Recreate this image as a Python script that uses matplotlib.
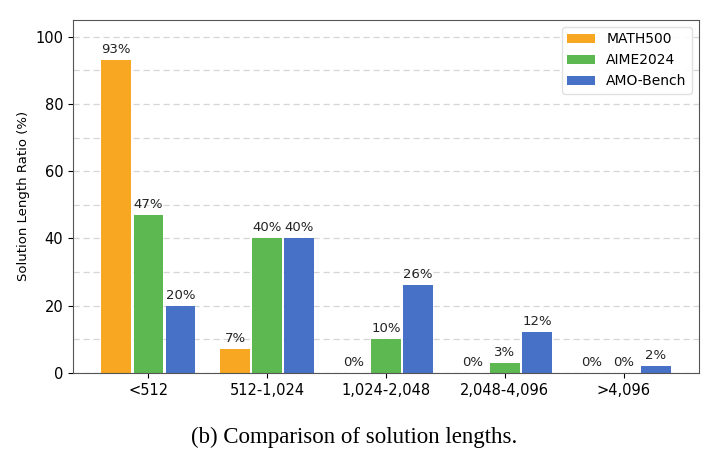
import numpy as np
import matplotlib
matplotlib.use('Agg')
from matplotlib import pyplot as plt
from matplotlib.ticker import MultipleLocator

# 数据
categories = ['<512', '512-1,024', '1,024-2,048', '2,048-4,096', '>4,096']
math500 = [93, 7, 0, 0, 0]
aime2024 = [47, 40, 10, 3, 0]
amo_bench = [20, 40, 26, 12, 2]
series_names = ['MATH500', 'AIME2024', 'AMO-Bench']
colors = ['#F7A722', '#5DB852', '#4671C6']

fig = plt.figure(figsize=(7.09, 4.53), dpi=100)
ax = fig.add_axes([0.103, 0.177, 0.883, 0.779])

x = np.arange(len(categories))
width = 0.25
offsets = [-0.27, 0, 0.27]

for vals, name, c, off in zip([math500, aime2024, amo_bench], series_names, colors, offsets):
    bars = ax.bar(x + off, vals, width, color=c, label=name)
    for b, v in zip(bars, vals):
        ax.text(b.get_x() + b.get_width() / 2, v + 1.2, f'{v}%',
                ha='center', va='bottom', fontsize=9.5, color='#222222')

ax.set_ylim(0, 105)
ax.yaxis.set_major_locator(MultipleLocator(20))
ax.yaxis.set_minor_locator(MultipleLocator(10))
ax.tick_params(axis='y', which='minor', length=0)
ax.grid(axis='y', which='both', linestyle=(0, (5, 3)), color='#cccccc', linewidth=0.9, alpha=0.8)
ax.set_axisbelow(True)

ax.set_xticks(x)
ax.set_xticklabels(categories, fontsize=10.5)
ax.tick_params(axis='y', labelsize=10.5)
ax.set_ylabel('Solution Length Ratio (%)', fontsize=9.5)

for s in ax.spines.values():
    s.set_color('#555555')

ax.legend(loc='upper right', fontsize=10, framealpha=0.9, edgecolor='#dddddd')

fig.text(0.5, 0.035, '(b) Comparison of solution lengths.', ha='center', va='center',
         fontsize=16.5, family='Liberation Serif')

plt.savefig('out.png', dpi=100)
